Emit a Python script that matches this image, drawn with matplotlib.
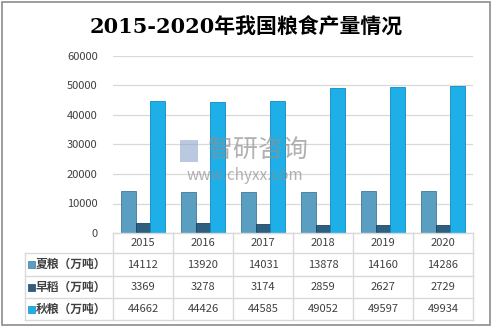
import matplotlib.pyplot as plt
import numpy as np
from matplotlib.lines import Line2D
from matplotlib.patches import Rectangle

years = ["2015", "2016", "2017", "2018", "2019", "2020"]
series_names = ["夏粮（万吨）", "早稻（万吨）", "秋粮（万吨）"]
summer = [14112, 13920, 14031, 13878, 14160, 14286]
early_rice = [3369, 3278, 3174, 2859, 2627, 2729]
autumn = [44662, 44426, 44585, 49052, 49597, 49934]
colors = ["#5a9ec2", "#2d5f80", "#1eaee8"]
edge_colors = ["#3f7a9c", "#1f4560", "#0d8cc0"]

W, H = 493, 329
plt.rcParams["font.family"] = ["Noto Sans CJK SC", "DejaVu Sans"]
TEXT = "#404040"
GRID = "#d9d9d9"


def fx(x):
    return x / W


def fy(y):
    return 1 - y / H


fig = plt.figure(figsize=(W / 100, H / 100), dpi=100)

# outer frame
fig.add_artist(Rectangle((fx(2), fy(325)), fx(488), 323 / H, fill=False,
                         edgecolor="#8c8c8c", linewidth=1.2, transform=fig.transFigure))

fig.text(0.5, fy(28), "2015-2020年我国粮食产量情况", ha="center", va="center",
         fontsize=15, fontweight="bold", color="black",
         family=["DejaVu Serif", "Noto Sans CJK SC"])

left, right, top, bottom = 113, 473, 56, 233
ax = fig.add_axes([fx(left), fy(bottom), fx(right - left), (bottom - top) / H])
x = np.arange(len(years))
width = 0.24
for i, vals in enumerate([summer, early_rice, autumn]):
    ax.bar(x + (i - 1) * width, vals, width, color=colors[i],
           edgecolor=edge_colors[i], linewidth=0.6, zorder=3)
ax.set_xlim(-0.5, len(years) - 0.5)
ax.set_ylim(0, 60000)
ax.set_yticks(range(0, 60001, 10000))
ax.tick_params(axis="y", length=0, pad=11, labelsize=8, labelcolor=TEXT)
ax.set_xticks([])
ax.grid(axis="y", color=GRID, linewidth=0.9, zorder=0)
for s in ax.spines.values():
    s.set_visible(False)

# watermark
fig.text(fx(258), fy(150), "智研咨询", ha="center", va="center", fontsize=18,
         color="#909090", alpha=0.7, zorder=5)
fig.text(fx(245), fy(176), "www.chyxx.com", ha="center", va="center", fontsize=11,
         color="#909090", alpha=0.7, zorder=5)
fig.add_artist(Rectangle((fx(180), fy(162)), fx(18), 22 / H, facecolor="#8fa6cc",
                         alpha=0.6, transform=fig.transFigure, zorder=5))

# data table
col_w = (right - left) / len(years)
row_y = [233, 253, 276, 298, 320]
for y in row_y:
    x0 = left if y == 233 else 25
    fig.add_artist(Line2D([fx(x0), fx(right)], [fy(y), fy(y)], color=GRID,
                          linewidth=1, transform=fig.transFigure))
fig.add_artist(Line2D([fx(25), fx(25)], [fy(253), fy(320)], color=GRID,
                      linewidth=1, transform=fig.transFigure))
for i in range(len(years) + 1):
    xx = left + i * col_w
    fig.add_artist(Line2D([fx(xx), fx(xx)], [fy(233), fy(320)], color=GRID,
                          linewidth=1, transform=fig.transFigure))
for j, yr in enumerate(years):
    fig.text(fx(left + (j + 0.5) * col_w), fy(243), yr, ha="center", va="center",
             fontsize=8, color=TEXT)
for r, (name, vals) in enumerate(zip(series_names, [summer, early_rice, autumn])):
    yc = (row_y[r + 1] + row_y[r + 2]) / 2
    fig.add_artist(Rectangle((fx(28), fy(yc + 3.5)), fx(7), 7 / H,
                             facecolor=colors[r], edgecolor=edge_colors[r],
                             linewidth=0.5, transform=fig.transFigure))
    fig.text(fx(36), fy(yc), name, ha="left", va="center", fontsize=8.5,
             fontweight="bold", color=TEXT)
    for j, v in enumerate(vals):
        fig.text(fx(left + (j + 0.5) * col_w), fy(yc), str(v), ha="center",
                 va="center", fontsize=8, color=TEXT)

fig.savefig("out.png", dpi=100)
